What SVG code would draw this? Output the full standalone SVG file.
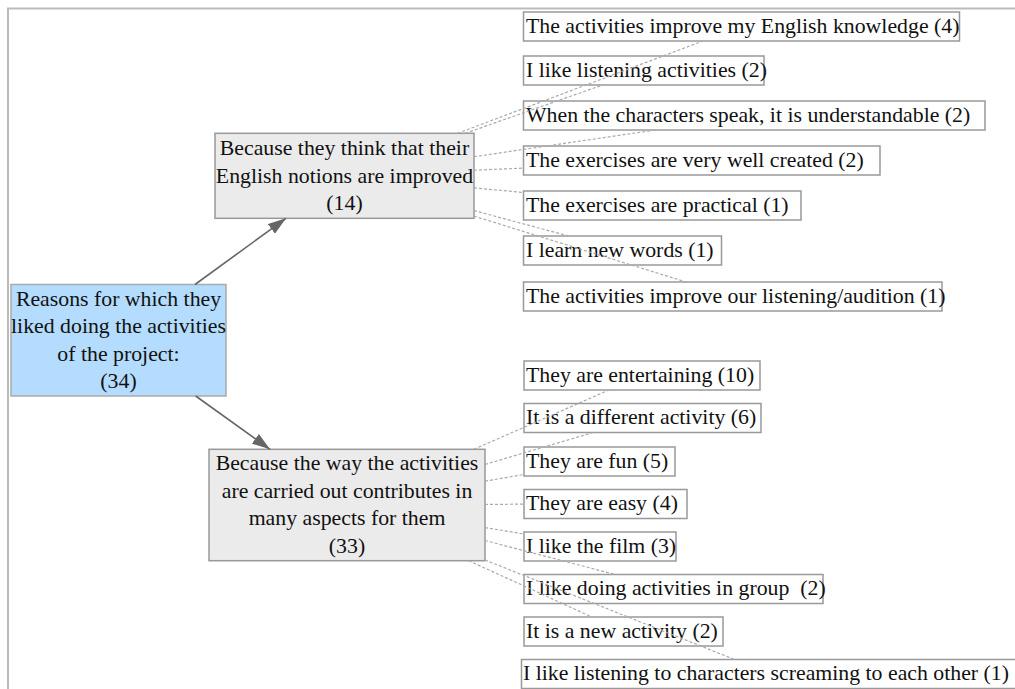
<svg xmlns="http://www.w3.org/2000/svg" width="1015" height="689" viewBox="0 0 1015 689">
<style>
text{font-family:"Liberation Serif","Times New Roman",serif;font-size:21.8px;fill:#111}
.c{text-anchor:middle}
.pre{white-space:pre}
.leaf{fill:#fff;stroke:#999;stroke-width:1.5}
.mid{fill:#ebebeb;stroke:#999;stroke-width:1.5}
.root{fill:#b4dcfe;stroke:#aaa;stroke-width:1.5}
.dash{stroke:#aaa;stroke-width:1.2;stroke-dasharray:3,2;fill:none}
.arr{stroke:#666;stroke-width:1.6;fill:none}
</style>
<defs>
<marker id="ah" viewBox="0 0 18 12" refX="18" refY="6" markerWidth="18" markerHeight="12" markerUnits="userSpaceOnUse" orient="auto">
<path d="M0,0 L18,6 L0,12 z" fill="#666"/>
</marker>
</defs>
<rect width="1015" height="689" fill="#fff"/>
<path d="M1015,8.5 H8 V689" stroke="#bbb" stroke-width="2" fill="none"/>

<g id="root">
<rect class="root" x="11" y="284.5" width="215" height="111.5"/>
<text class="c" x="118.5" y="306">Reasons for which they</text>
<text class="c" x="118.5" y="333">liked doing the activities</text>
<text class="c" x="118.5" y="360.5">of the project:</text>
<text class="c" x="118.5" y="388">(34)</text>
</g>
<g id="nodeB">
<rect class="mid" x="215" y="133.3" width="259" height="85"/>
<text class="c" x="344.5" y="155">Because they think that their</text>
<text class="c" x="344.5" y="182.5">English notions are improved</text>
<text class="c" x="344.5" y="210">(14)</text>
</g>
<g id="nodeC">
<rect class="mid" x="209" y="449.3" width="276" height="111.4"/>
<text class="c" x="347" y="470">Because the way the activities</text>
<text class="c" x="347" y="497.5">are carried out contributes in</text>
<text class="c" x="347" y="525">many aspects for them</text>
<text class="c" x="347" y="552.5">(33)</text>
</g>

<g id="t1"><rect class="leaf" x="523.5" y="12" width="436" height="29"/><text x="526" y="32.5">The activities improve my English knowledge (4)</text></g>
<g id="t2"><rect class="leaf" x="523.5" y="56" width="240.5" height="29"/><text x="526" y="76.5">I like listening activities (2)</text></g>
<g id="t3"><rect class="leaf" x="523.5" y="101" width="461.5" height="29"/><text x="526" y="121.5">When the characters speak, it is understandable (2)</text></g>
<g id="t4"><rect class="leaf" x="523.5" y="146" width="356.5" height="29"/><text x="526" y="166.5">The exercises are very well created (2)</text></g>
<g id="t5"><rect class="leaf" x="523.5" y="191" width="277.5" height="29"/><text x="526" y="211.5">The exercises are practical (1)</text></g>
<g id="t6"><rect class="leaf" x="523.5" y="236" width="198" height="29"/><text x="526" y="256.5">I learn new words (1)</text></g>
<g id="t7"><rect class="leaf" x="523.5" y="282" width="418.5" height="29"/><text x="526" y="302.5">The activities improve our listening/audition (1)</text></g>

<g id="b1"><rect class="leaf" x="524" y="361" width="236" height="29"/><text x="526" y="381.5">They are entertaining (10)</text></g>
<g id="b2"><rect class="leaf" x="524" y="403.5" width="237" height="29"/><text x="526" y="424">It is a different activity (6)</text></g>
<g id="b3"><rect class="leaf" x="524" y="447" width="151" height="29"/><text x="526" y="467.5">They are fun (5)</text></g>
<g id="b4"><rect class="leaf" x="524" y="489.5" width="163" height="29"/><text x="526" y="510">They are easy (4)</text></g>
<g id="b5"><rect class="leaf" x="524" y="532" width="152" height="29"/><text x="526" y="552.5">I like the film (3)</text></g>
<g id="b6"><rect class="leaf" x="524" y="574.5" width="299" height="29"/><text class="pre" xml:space="preserve" x="526" y="595">I like doing activities in group  (2)</text></g>
<g id="b7"><rect class="leaf" x="524" y="617" width="199" height="29"/><text x="526" y="637.5">It is a new activity (2)</text></g>
<g id="b8"><rect class="leaf" x="521.5" y="659.5" width="499" height="29"/><text x="523" y="680">I like listening to characters screaming to each other (1)</text></g>

<g id="connectors">
<line class="arr" x1="195" y1="284.5" x2="286" y2="218.3" marker-end="url(#ah)"/>
<line class="arr" x1="195.7" y1="396" x2="270" y2="449.3" marker-end="url(#ah)"/>
<line class="dash" x1="457.5" y1="133.3" x2="703" y2="41"/>
<line class="dash" x1="465.3" y1="133.3" x2="602.5" y2="85"/>
<line class="dash" x1="474" y1="156.7" x2="655.7" y2="130"/>
<line class="dash" x1="474" y1="170.25" x2="523.5" y2="168.1"/>
<line class="dash" x1="474" y1="187.9" x2="523.5" y2="192.5"/>
<line class="dash" x1="474" y1="210.6" x2="568.6" y2="236"/>
<line class="dash" x1="474" y1="216.1" x2="686.1" y2="282"/>
<line class="dash" x1="473.9" y1="449.3" x2="609" y2="390"/>
<line class="dash" x1="485" y1="464.4" x2="593.25" y2="432.5"/>
<line class="dash" x1="485" y1="481.2" x2="524" y2="474.5"/>
<line class="dash" x1="485" y1="504.5" x2="524" y2="504.1"/>
<line class="dash" x1="485" y1="527.6" x2="524" y2="534"/>
<line class="dash" x1="485" y1="540.5" x2="615.2" y2="574.5"/>
<line class="dash" x1="468.7" y1="560.7" x2="591.8" y2="617"/>
<line class="dash" x1="485" y1="560" x2="734.6" y2="659.5"/>
</g>
</svg>
